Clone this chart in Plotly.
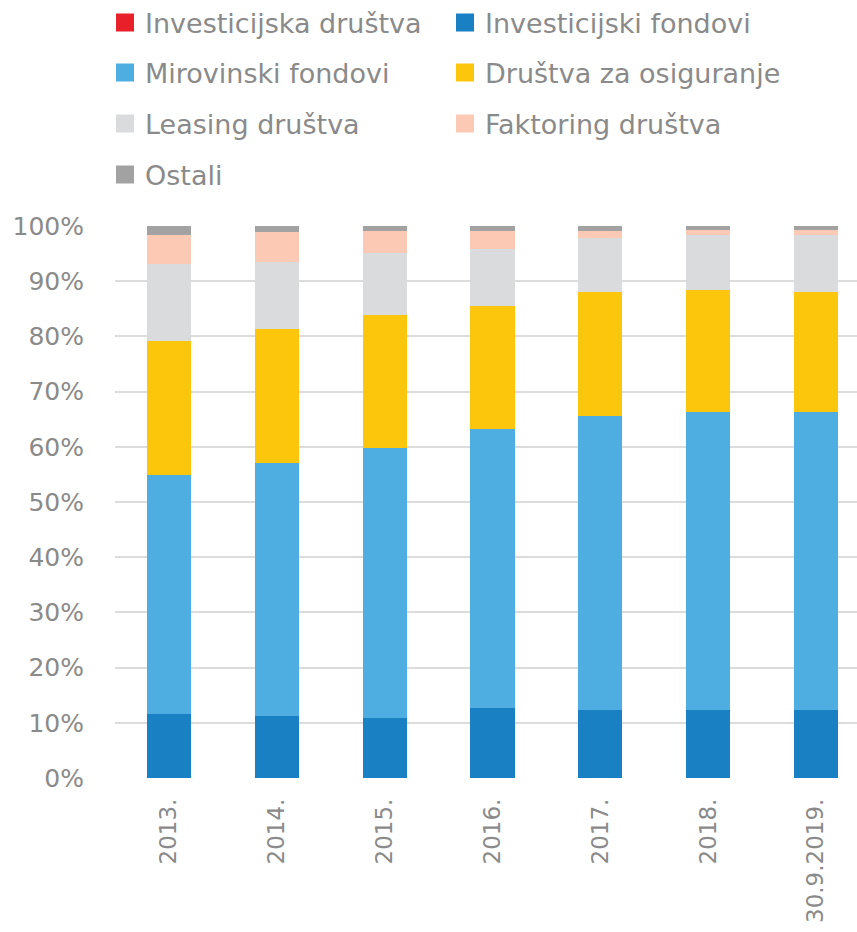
import plotly.graph_objects as go

categories = ["2013.", "2014.", "2015.", "2016.", "2017.", "2018.", "30.9.2019."]

investicijska_drustva = [0.05, 0.05, 0.05, 0.05, 0.05, 0.05, 0.05]
investicijski_fondovi = [11.5, 11.2, 10.8, 12.6, 12.3, 12.2, 12.2]
mirovinski_fondovi = [43.3, 45.8, 49.0, 50.5, 53.3, 54.1, 54.1]
drustva_za_osiguranje = [24.4, 24.3, 24.0, 22.4, 22.4, 22.1, 21.7]
leasing_drustva = [13.8, 12.1, 11.3, 10.3, 9.8, 10.0, 10.4]
faktoring_drustva = [5.4, 5.4, 4.0, 3.3, 1.3, 0.8, 0.8]
ostali = [1.55, 1.15, 0.85, 0.85, 0.85, 0.75, 0.75]

series = [
    ("Investicijska društva", investicijska_drustva, "#E8202A", "legend"),
    ("Investicijski fondovi", investicijski_fondovi, "#1A80C4", "legend"),
    ("Mirovinski fondovi", mirovinski_fondovi, "#4FAEE1", "legend2"),
    ("Društva za osiguranje", drustva_za_osiguranje, "#FCC60D", "legend2"),
    ("Leasing društva", leasing_drustva, "#DADBDC", "legend3"),
    ("Faktoring društva", faktoring_drustva, "#FCC9B5", "legend3"),
    ("Ostali", ostali, "#A2A2A2", "legend4"),
]

FONT = "DejaVu Sans"
GREY = "#8A8A8A"

fig = go.Figure()
for name, vals, color, lg in series:
    fig.add_trace(go.Bar(
        x=categories, y=vals, name=name, showlegend=False,
        marker=dict(color=color, line=dict(width=0)),
    ))
# legend swatches (larger squares than the default bar swatch)
for name, vals, color, lg in series:
    fig.add_trace(go.Scatter(
        x=[None], y=[None], mode="markers", name=name, legend=lg,
        marker=dict(symbol="square", size=16, color=color,
                    line=dict(color=color, width=2)),
    ))

row_y = [23, 73, 124, 175]
legend_common = dict(
    orientation="h", xref="container", yref="container",
    x=105 / 857, xanchor="left", yanchor="middle",
    font=dict(family=FONT, size=27, color=GREY),
    entrywidth=295, entrywidthmode="pixels", itemsizing="trace",
    bgcolor="rgba(0,0,0,0)", borderwidth=0, traceorder="normal",
)
layout_legends = {}
for i, key in enumerate(["legend", "legend2", "legend3", "legend4"]):
    layout_legends[key] = dict(legend_common, y=1 - row_y[i] / 932)

fig.update_layout(
    width=857, height=932,
    barmode="stack", bargap=0.59,
    plot_bgcolor="white", paper_bgcolor="white",
    margin=dict(l=115, r=0, t=225.5, b=153.5, pad=0, autoexpand=False),
    font=dict(family=FONT, size=26, color=GREY),
    showlegend=True,
    **layout_legends,
)
fig.update_xaxes(
    type="category", range=[-0.5, 6.38], tickangle=-90,
    showgrid=False, showline=False, ticks="", automargin=False,
    tickfont=dict(family=FONT, size=23, color=GREY),
    ticklabelstandoff=15,
)
fig.update_yaxes(
    range=[0, 100], dtick=10, ticksuffix="%", automargin=False,
    showgrid=True, gridcolor="#DCDCDC", gridwidth=1.5,
    zeroline=False, showline=False, ticks="",
    tickfont=dict(family=FONT, size=25, color=GREY),
    ticklabelstandoff=30,
)

fig.write_html("out.html")
